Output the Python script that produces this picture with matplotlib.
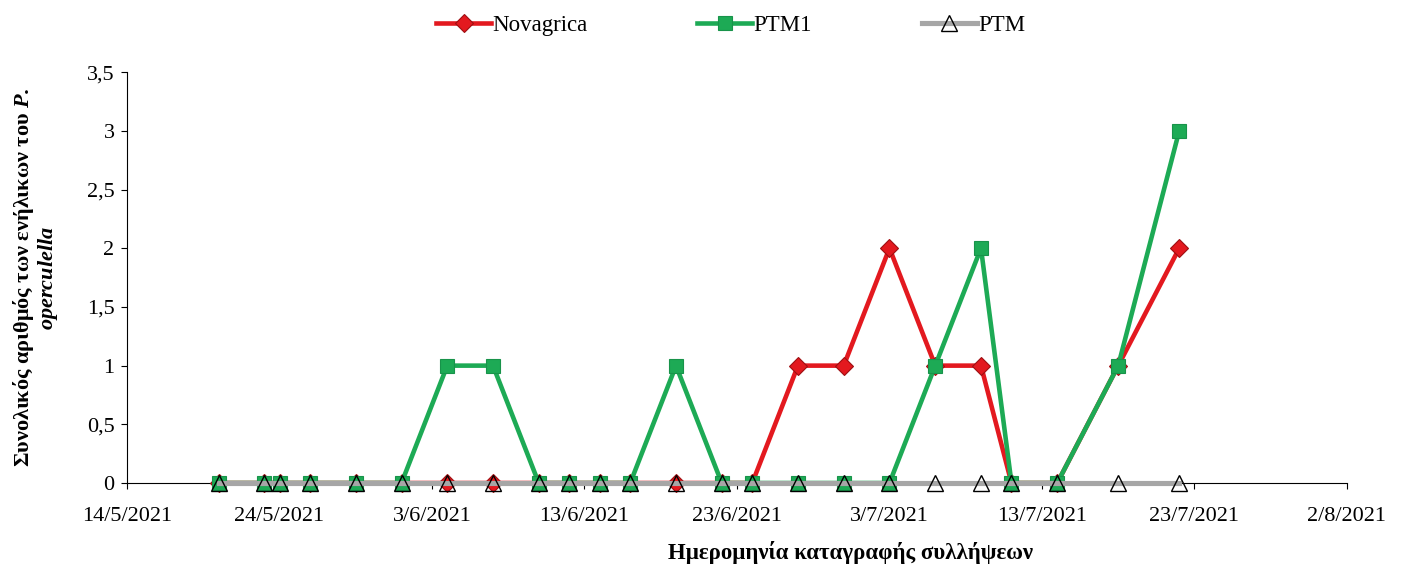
import matplotlib.pyplot as plt
import matplotlib.dates as mdates
import numpy as np
import datetime as dt

plt.rcParams['font.family'] = ['Liberation Serif', 'DejaVu Serif']
plt.rcParams['mathtext.fontset'] = 'custom'
plt.rcParams['mathtext.bfit'] = 'Liberation Serif:italic:bold'
plt.rcParams['mathtext.it'] = 'Liberation Serif:italic'
plt.rcParams['mathtext.rm'] = 'Liberation Serif'

# sampling dates
dates = ['20/5/2021', '23/5/2021', '24/5/2021', '26/5/2021', '29/5/2021', '1/6/2021',
         '4/6/2021', '7/6/2021', '10/6/2021', '12/6/2021', '14/6/2021', '16/6/2021',
         '19/6/2021', '22/6/2021', '24/6/2021', '27/6/2021', '30/6/2021', '3/7/2021',
         '6/7/2021', '9/7/2021', '11/7/2021', '14/7/2021', '18/7/2021', '22/7/2021']
novagrica = [0, 0, 0, 0, 0, 0, 0, 0, 0, 0, 0, 0, 0, 0, 0, 1, 1, 2, 1, 1, 0, 0, 1, 2]
ptm1 = [0, 0, 0, 0, 0, 0, 1, 1, 0, 0, 0, 0, 1, 0, 0, 0, 0, 0, 1, 2, 0, 0, 1, 3]
ptm = [0] * 24

tick_dates = ['14/5/2021', '24/5/2021', '3/6/2021', '13/6/2021', '23/6/2021',
              '3/7/2021', '13/7/2021', '23/7/2021', '2/8/2021']

def parse(s):
    return dt.datetime.strptime(s, '%d/%m/%Y')

x = [parse(d) for d in dates]
xt = [parse(d) for d in tick_dates]

fig = plt.figure(figsize=(14.05, 5.68), dpi=100)
ax = fig.add_axes([0.0904, 0.1496, 0.8683, 0.7234])

ax.plot(x, novagrica, color='#E3191F', lw=3.3, marker='D', ms=9.5,
        mfc='#E3191F', mec='#9E0F12', mew=0.8, label='Novagrica', clip_on=False, zorder=3)
ax.plot(x, ptm1, color='#1DAA55', lw=3.3, marker='s', ms=10.5,
        mfc='#1DAA55', mec='#18934A', mew=0.8, label='PTM1', clip_on=False, zorder=3)
ax.plot(x, ptm, color='#A6A6A6', lw=3.7, marker='^', ms=11,
        mfc='none', mec='black', mew=1.0, label='PTM', clip_on=False, zorder=3)

ax.set_xlim(xt[0], xt[-1])
ax.set_ylim(0, 3.5)
ax.set_xticks(xt)
ax.xaxis.set_major_formatter(plt.FuncFormatter(
    lambda v, p: '{0}/{1}/{2}'.format(mdates.num2date(v).day, mdates.num2date(v).month,
                                      mdates.num2date(v).year)))
ax.set_yticks(np.arange(0, 3.51, 0.5))
ax.set_yticklabels([('%g' % v).replace('.', ',') for v in np.arange(0, 3.51, 0.5)])
ax.tick_params(axis='both', labelsize=16, direction='out', length=4, width=0.8)
ax.tick_params(axis='x', pad=13)
ax.tick_params(axis='y', pad=5)
for s in ['top', 'right']:
    ax.spines[s].set_visible(False)
for s in ['left', 'bottom']:
    ax.spines[s].set_linewidth(0.8)

ax.set_ylabel('Συνολικός αριθμός των ενήλικων του $\\mathbfit{P.}$\n$\\mathbfit{operculella}$',
              fontsize=16, fontweight='bold', labelpad=19, linespacing=1.0)
ax.set_xlabel('Ημερομηνία καταγραφής συλλήψεων', fontsize=16.5, fontweight='bold')
ax.xaxis.set_label_coords(0.593, -0.14)

fig.legend(loc='upper center', bbox_to_anchor=(0.52, 1.01), ncol=3, frameon=False,
           fontsize=16.5, columnspacing=4.8, handlelength=2.4, handletextpad=0.05)

plt.savefig('out.png', dpi=100)
